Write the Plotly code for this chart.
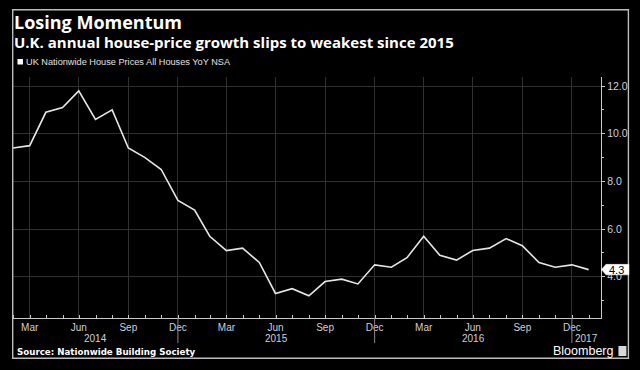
import pandas as pd
import plotly.graph_objects as go

# ---- data ----
months = pd.date_range("2014-02-28", periods=36, freq="ME")
yoy = [9.4, 9.5, 10.9, 11.1, 11.8, 10.6, 11.0, 9.4, 9.0, 8.5, 7.2,
       6.8, 5.7, 5.1, 5.2, 4.6, 3.3, 3.5, 3.2, 3.8, 3.9, 3.7, 4.5,
       4.4, 4.8, 5.7, 4.9, 4.7, 5.1, 5.2, 5.6, 5.3, 4.6, 4.4, 4.5,
       4.3]
series_name = "UK Nationwide House Prices All Houses YoY NSA"
title = "Losing Momentum"
subtitle = "U.K. annual house-price growth slips to weakest since 2015"
source = "Source: Nationwide Building Society"
month_ticks = [d for d in months if d.month in (3, 6, 9, 12)]
month_labels = [d.strftime("%b") for d in month_ticks]
years = ["2014", "2015", "2016", "2017"]
y_ticks = [4, 6, 8, 10, 12]
last_value = yoy[-1]

# ---- geometry ----
W, H = 640, 370
L, R, T, B = 13, 37, 77, 52
pw, ph = W - L - R, H - T - B


def px(x):
    return (x - L) / pw


def py(y):
    return (H - B - y) / ph


x_start = months[0]
x_end = months[-1] + pd.Timedelta(days=23)

fig = go.Figure()
fig.add_trace(go.Scatter(x=months, y=yoy, mode="lines",
                         line=dict(color="#e6e6e6", width=1.6),
                         name=series_name, showlegend=False,
                         hoverinfo="x+y"))

grid = "#303030"
axis_c = "#c8c8c8"
sans = "Liberation Sans, Arial, sans-serif"
tick_font = dict(family=sans, size=10, color="#d0d0d0")
ytick_font = dict(family=sans, size=10.5, color="#d0d0d0")

fig.update_layout(
    width=W, height=H,
    margin=dict(l=L, r=R, t=T, b=B, pad=0),
    paper_bgcolor="black", plot_bgcolor="black",
    xaxis=dict(type="date", range=[x_start, x_end],
               tickvals=month_ticks, ticktext=month_labels,
               showgrid=True, gridcolor=grid, gridwidth=1,
               showline=True, linecolor=axis_c, linewidth=1.2,
               ticks="", tickfont=tick_font, zeroline=False,
               minor=dict(ticks="inside", ticklen=3, tickcolor=axis_c,
                          dtick="M1", tick0="2014-03-01", showgrid=False)),
    yaxis=dict(range=[2.27, 12.38], side="right",
               tickvals=y_ticks, tickformat=".1f",
               showgrid=True, gridcolor=grid, gridwidth=1,
               showline=True, linecolor=axis_c, linewidth=1.2,
               ticks="outside", ticklen=3, tickcolor=axis_c,
               tickfont=ytick_font, zeroline=False,
               minor=dict(ticks="outside", ticklen=2, tickcolor=axis_c,
                          dtick=1, showgrid=False)),
)

ann = []
ann.append(dict(text="<b>" + title + "</b>", x=px(12), y=py(22.5),
                font=dict(family="Open Sans, sans-serif", size=18, color="white")))
ann.append(dict(text="<b>" + subtitle + "</b>", x=px(12), y=py(42),
                font=dict(family="Open Sans, sans-serif", size=15, color="white")))
ann.append(dict(text=series_name, x=px(24.5), y=py(62),
                font=dict(family=sans, size=9.2, color="#e0e0e0")))
ann.append(dict(text="<b>" + source + "</b>", x=px(15), y=py(352),
                font=dict(family="DejaVu Sans, sans-serif", size=8.7, color="white")))
ann.append(dict(text="Bloomberg", x=px(617), y=py(351), xanchor="right",
                font=dict(family=sans, size=12.5, color="white")))
for a in ann:
    a.setdefault("xanchor", "left")
    a.update(xref="paper", yref="paper", yanchor="middle", showarrow=False)

# year labels centred on visible span of each year
year_bounds = [x_start, pd.Timestamp("2014-12-31"), pd.Timestamp("2015-12-31"),
               pd.Timestamp("2016-12-31"), x_end]
for i, yr in enumerate(years):
    mid = year_bounds[i] + (year_bounds[i + 1] - year_bounds[i]) / 2
    ann.append(dict(text=yr, x=mid, xref="x", y=py(338), yref="paper",
                    xanchor="center", yanchor="middle", showarrow=False,
                    font=tick_font))
# last value callout
ann.append(dict(text=f"{last_value:.1f}", x=px(619), y=last_value, xref="paper",
                yref="y", xanchor="center", yanchor="middle", showarrow=False,
                font=dict(family=sans, size=11, color="black")))
fig.update_layout(annotations=ann)

shapes = []
# outer frame
shapes.append(dict(type="rect", xref="paper", yref="paper",
                   x0=px(12.7), x1=px(630.5), y0=py(358.3), y1=py(9.7),
                   line=dict(color="#bdbdbd", width=1.4), layer="above"))
# year separators
for b in year_bounds[1:-1]:
    shapes.append(dict(type="line", xref="x", yref="paper", x0=b, x1=b,
                       y0=py(343), y1=0, line=dict(color="#8a8a8a", width=1)))
# legend square
shapes.append(dict(type="rect", xref="paper", yref="paper",
                   x0=px(17.5), x1=px(23), y0=py(64.5), y1=py(59),
                   fillcolor="white", line=dict(width=0)))
# callout box
bw = 0.22
shapes.append(dict(type="path", xref="paper", yref="y",
                   path=(f"M {px(603.5)},{last_value} "
                         f"L {px(608)},{last_value + bw} "
                         f"L {px(631)},{last_value + bw} "
                         f"L {px(631)},{last_value - bw} "
                         f"L {px(608)},{last_value - bw} Z"),
                   fillcolor="white", line=dict(color="white", width=0.5)))
# bloomberg icon
shapes.append(dict(type="rect", xref="paper", yref="paper",
                   x0=px(620.5), x1=px(628.5), y0=py(356), y1=py(346),
                   fillcolor="#d8d8d8", line=dict(width=0)))
fig.update_layout(shapes=shapes)

fig.write_html("out.html", config={"displayModeBar": False},
               post_script="document.body.style.margin='0';"
                           "document.body.style.padding='0';"
                           "document.body.style.overflow='hidden';")
